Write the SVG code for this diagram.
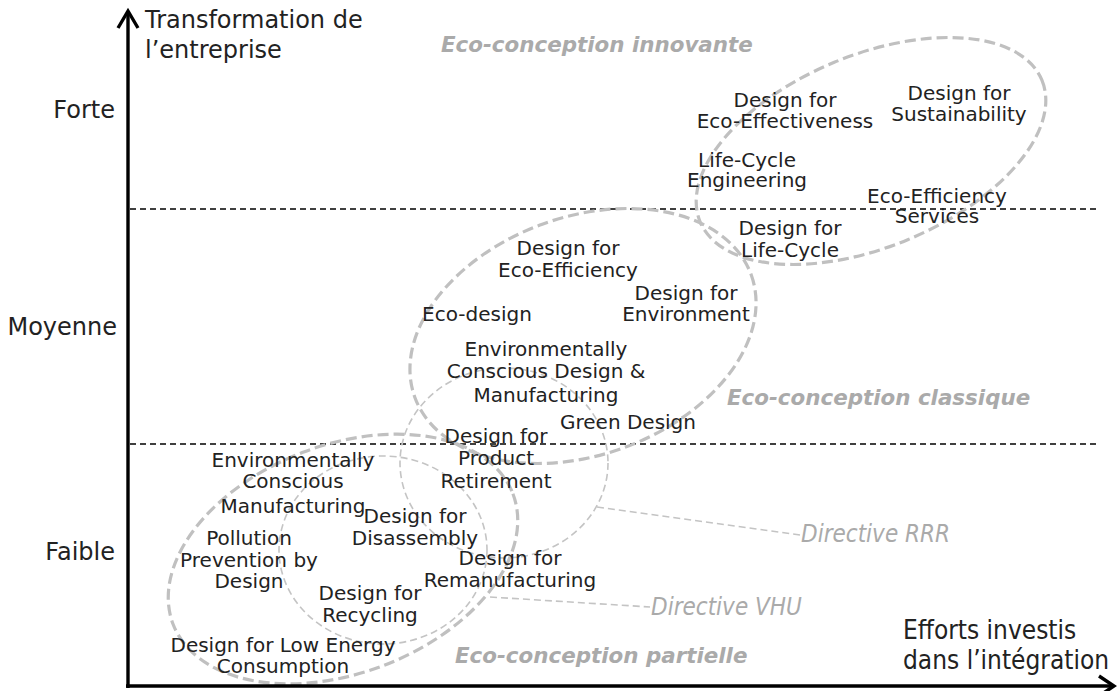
<svg xmlns="http://www.w3.org/2000/svg" width="1117" height="691" viewBox="0 0 1117 691">
<style>
.t{font-family:'DejaVu Sans','Verdana',sans-serif;font-size:20px;fill:#222;text-anchor:middle}
.ax{font-family:'DejaVu Sans','Verdana',sans-serif;font-size:24px;fill:#222}
.axc{font-family:'DejaVu Sans Condensed','DejaVu Sans',sans-serif;font-stretch:condensed;font-size:26px;fill:#222}
.grp{font-family:'DejaVu Sans','Verdana',sans-serif;font-size:21.4px;font-weight:bold;font-style:italic;fill:#aaaaaa}
.dir{font-family:'DejaVu Sans Condensed','DejaVu Sans',sans-serif;font-stretch:condensed;font-size:24px;font-style:italic;fill:#aaaaaa}
.big{fill:none;stroke:#c0c0c0;stroke-width:3.2;stroke-dasharray:11 5}
.thin{fill:none;stroke:#c4c4c4;stroke-width:1.6;stroke-dasharray:7 4}
.lvl{fill:none;stroke:#000;stroke-width:1.5;stroke-dasharray:6 4}
.axis{fill:none;stroke:#000;stroke-width:3.4}
</style>
<rect width="1117" height="691" fill="#fff"/>
<g id="levels">
<line class="lvl" x1="130" y1="209" x2="1100" y2="209"/>
<line class="lvl" x1="130" y1="444" x2="1100" y2="444"/>
</g>
<g id="regions">
<ellipse id="innovante" class="big" cx="871" cy="151" rx="185" ry="96" transform="rotate(-22.5 871 151)"/>
<ellipse id="classique" class="big" cx="583" cy="336" rx="179" ry="119" transform="rotate(-20 583 336)"/>
<ellipse id="partielle" class="big" cx="343" cy="559" rx="182" ry="114" transform="rotate(-21 343 559)"/>
<ellipse id="rrr" class="thin" cx="504" cy="463" rx="104" ry="95"/>
<ellipse id="vhu" class="thin" cx="383" cy="550" rx="104" ry="94"/>
</g>
<g id="connectors">
<line class="thin" x1="597" y1="507" x2="800" y2="535"/>
<line class="thin" x1="490" y1="597" x2="650" y2="607"/>
</g>
<g id="axes">
<line class="axis" x1="128" y1="688" x2="128" y2="12"/>
<polyline class="axis" points="118,28 128,11 138,28"/>
<line class="axis" x1="126" y1="686" x2="1113" y2="686"/>
<polyline class="axis" points="1099,676 1114,686 1099,696"/>
</g>
<g id="axis-labels">
<text class="ax" x="145" y="28">Transformation de</text>
<text class="ax" x="145" y="58">l’entreprise</text>
<text class="ax" x="115" y="118" text-anchor="end">Forte</text>
<text class="ax" x="117" y="335" text-anchor="end">Moyenne</text>
<text class="ax" x="115" y="560" text-anchor="end">Faible</text>
<text class="axc" x="903" y="639">Efforts investis</text>
<text class="axc" x="903" y="669">dans l’intégration</text>
</g>
<g id="region-labels">
<text class="grp" x="441" y="52">Eco-conception innovante</text>
<text class="grp" x="727" y="405">Eco-conception classique</text>
<text class="grp" x="455" y="663">Eco-conception partielle</text>
<text class="dir" x="801" y="542">Directive RRR</text>
<text class="dir" x="651" y="615">Directive VHU</text>
</g>
<g id="n-eco-effectiveness"><text class="t" x="785" y="107">Design for</text><text class="t" x="785" y="128">Eco-Effectiveness</text></g>
<g id="n-sustainability"><text class="t" x="959" y="100">Design for</text><text class="t" x="959" y="121">Sustainability</text></g>
<g id="n-lce"><text class="t" x="747" y="167">Life-Cycle</text><text class="t" x="747" y="187">Engineering</text></g>
<g id="n-ees"><text class="t" x="937" y="203">Eco-Efficiency</text><text class="t" x="937" y="223">Services</text></g>
<g id="n-dflc"><text class="t" x="790" y="235">Design for</text><text class="t" x="790" y="257">Life-Cycle</text></g>
<g id="n-eco-efficiency"><text class="t" x="568" y="255">Design for</text><text class="t" x="568" y="277">Eco-Efficiency</text></g>
<g id="n-environment"><text class="t" x="686" y="300">Design for</text><text class="t" x="686" y="321">Environment</text></g>
<g id="n-ecodesign"><text class="t" x="477" y="321">Eco-design</text></g>
<g id="n-ecdm"><text class="t" x="546" y="356">Environmentally</text><text class="t" x="546" y="378">Conscious Design &amp;</text><text class="t" x="546" y="402">Manufacturing</text></g>
<g id="n-green"><text class="t" x="628" y="429">Green Design</text></g>
<g id="n-retirement"><text class="t" x="496" y="443">Design for</text><text class="t" x="496" y="465">Product</text><text class="t" x="496" y="488">Retirement</text></g>
<g id="n-ecm"><text class="t" x="293" y="467">Environmentally</text><text class="t" x="293" y="488">Conscious</text><text class="t" x="293" y="513">Manufacturing</text></g>
<g id="n-disassembly"><text class="t" x="415" y="523">Design for</text><text class="t" x="415" y="545">Disassembly</text></g>
<g id="n-ppd"><text class="t" x="249" y="545">Pollution</text><text class="t" x="249" y="567">Prevention by</text><text class="t" x="249" y="588">Design</text></g>
<g id="n-reman"><text class="t" x="510" y="565">Design for</text><text class="t" x="510" y="587">Remanufacturing</text></g>
<g id="n-recycling"><text class="t" x="370" y="600">Design for</text><text class="t" x="370" y="622">Recycling</text></g>
<g id="n-lowenergy"><text class="t" x="283" y="652">Design for Low Energy</text><text class="t" x="283" y="673">Consumption</text></g>
</svg>
